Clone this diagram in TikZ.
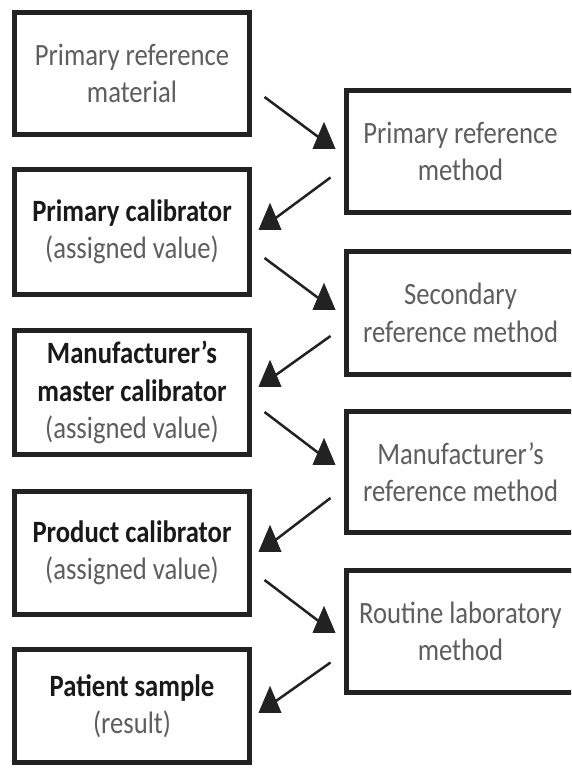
\documentclass[tikz,border=0pt]{standalone}
\usepackage{fontspec}
\setmainfont{Carlito}[FakeStretch=0.86]
\usetikzlibrary{shapes.geometric}
\definecolor{boxline}{HTML}{222222}
\definecolor{textgray}{HTML}{5E5E5E}
\tikzset{
  basic/.style  = {draw=boxline, line width=5pt, rectangle, align=center,
                   inner sep=0pt, text=textgray,
                   font=\fontsize{31}{37.5}\selectfont},
  material/.style = {basic, minimum width=235pt},
  method/.style   = {basic, minimum width=228pt},
  head/.style   = {isosceles triangle, isosceles triangle stretches,
                   shape border rotate=90, fill=boxline, inner sep=0pt,
                   minimum width=23pt, minimum height=27pt, anchor=south},
  link/.style   = {draw=boxline, line width=2.5pt}
}
\newcommand{\calname}[1]{{\bfseries\color{black!90}#1}}

\begin{document}
\begin{tikzpicture}[x=1pt, y=-1pt]
\useasboundingbox (0,0) rectangle (571,775);
\fill[white] (0,0) rectangle (571,775);
\clip (0,0) rectangle (571,775);

% left column: materials and calibrators
\node[material, minimum height=122pt] (m1) at (132,73.5)
  {Primary reference\\material};
\node[material, minimum height=125pt] (m2) at (132,232)
  {\calname{Primary calibrator}\\(assigned value)};
\node[material, minimum height=124pt] (m3) at (132,392.5)
  {\calname{Manufacturer's}\\\calname{master calibrator}\\(assigned value)};
\node[material, minimum height=123pt] (m4) at (132,553)
  {\calname{Product calibrator}\\(assigned value)};
\node[material, minimum height=113pt] (m5) at (132,706)
  {\calname{Patient sample}\\(result)};

% right column: methods, cut off at the page edge
\node[method, minimum height=122pt] (r1) at (460.5,151.5)
  {Primary reference\\method};
\node[method, minimum height=123pt] (r2) at (460.5,313)
  {Secondary\\reference method};
\node[method, minimum height=121pt] (r3) at (460.5,472)
  {Manufacturer's\\reference method};
\node[method, minimum height=122pt] (r4) at (460.5,631.5)
  {Routine laboratory\\method};

% arrow heads
\node[head] (h1) at (324,149) {};
\node[head] (h2) at (270,230) {};
\node[head] (h3) at (324,310) {};
\node[head] (h4) at (270,387) {};
\node[head] (h5) at (324,465) {};
\node[head] (h6) at (270,552) {};
\node[head] (h7) at (324,633) {};
\node[head] (h8) at (270,713) {};

% connectors
\draw[link] ([shift={(12.5,23.5)}]m1.east) -- (h1.center);
\draw[link] ([shift={(-13.5,26)}]r1.west) -- (h2.center);
\draw[link] ([shift={(12.5,26)}]m2.east) -- (h3.center);
\draw[link] ([shift={(-13.5,23)}]r2.west) -- (h4.center);
\draw[link] ([shift={(12.5,19.5)}]m3.east) -- (h5.center);
\draw[link] ([shift={(-13.5,26)}]r3.west) -- (h6.center);
\draw[link] ([shift={(12.5,27)}]m4.east) -- (h7.center);
\draw[link] ([shift={(-13.5,31)}]r4.west) -- (h8.center);

\end{tikzpicture}
\end{document}
